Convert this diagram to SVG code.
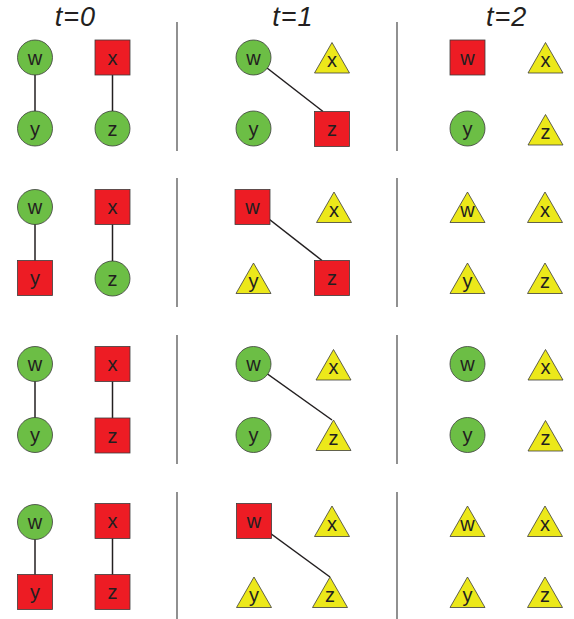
<svg xmlns="http://www.w3.org/2000/svg" xmlns:xlink="http://www.w3.org/1999/xlink" width="574" height="619" viewBox="0 0 574 619">
<style>
.g{fill:#6cbe45;stroke:#3c3c3c;stroke-width:0.8}
.r{fill:#ed1c24;stroke:#3c3c3c;stroke-width:0.8}
.y{fill:#ece81a;stroke:#3c3c3c;stroke-width:0.8}
.lbl{font-family:"Liberation Sans",Arial,sans-serif;font-size:20px;fill:#231f20;text-anchor:middle}
.hdr{font-family:"Liberation Sans",Arial,sans-serif;font-size:27px;font-style:italic;fill:#231f20;text-anchor:middle;letter-spacing:1px}
.edge{stroke:#231f20;stroke-width:1.5;fill:none}
.div{stroke:#555;stroke-width:1.3}
</style>
<defs>
<circle id="C" cx="0" cy="0" r="17.5"/>
<rect id="S" x="-17.5" y="-17.5" width="35" height="35"/>
<polygon id="T" points="0,-15 17.5,15.5 -17.5,15.5"/>
</defs>

<g id="headers">
<text class="hdr" x="75.5" y="26">t=0</text>
<text class="hdr" x="293" y="26">t=1</text>
<text class="hdr" x="506.7" y="26">t=2</text>
</g>

<g id="dividers">
<line class="div" x1="177" y1="22" x2="177" y2="151"/>
<line class="div" x1="397" y1="22" x2="397" y2="151"/>
<line class="div" x1="177" y1="178" x2="177" y2="307"/>
<line class="div" x1="397" y1="178" x2="397" y2="307"/>
<line class="div" x1="177" y1="335" x2="177" y2="464"/>
<line class="div" x1="397" y1="335" x2="397" y2="464"/>
<line class="div" x1="177" y1="492" x2="177" y2="619"/>
<line class="div" x1="397" y1="492" x2="397" y2="619"/>
</g>

<g id="connectors">
<line class="edge" x1="35" y1="57.5" x2="35" y2="128.5"/>
<line class="edge" x1="112.5" y1="57.5" x2="112.5" y2="128.5"/>
<line class="edge" x1="253.5" y1="57.5" x2="323" y2="111.5"/>
<line class="edge" x1="35" y1="207" x2="35" y2="278"/>
<line class="edge" x1="112.5" y1="207" x2="112.5" y2="278"/>
<line class="edge" x1="253.5" y1="207" x2="322" y2="260.5"/>
<line class="edge" x1="35" y1="364" x2="35" y2="435"/>
<line class="edge" x1="112.5" y1="364" x2="112.5" y2="435"/>
<line class="edge" x1="253.5" y1="364" x2="332" y2="420"/>
<line class="edge" x1="35" y1="521" x2="35" y2="592"/>
<line class="edge" x1="112.5" y1="521" x2="112.5" y2="592"/>
<line class="edge" x1="253.5" y1="521" x2="330" y2="577"/>
</g>

<!-- Row 1 -->
<g id="r1-t0-w" transform="translate(35,57.5)"><use href="#C" class="g"/><text class="lbl" y="7">w</text></g>
<g id="r1-t0-x" transform="translate(112.5,57.5)"><use href="#S" class="r"/><text class="lbl" y="7">x</text></g>
<g id="r1-t0-y" transform="translate(35,128.5)"><use href="#C" class="g"/><text class="lbl" y="7">y</text></g>
<g id="r1-t0-z" transform="translate(112.5,128.5)"><use href="#C" class="g"/><text class="lbl" y="7">z</text></g>
<g id="r1-t1-w" transform="translate(253.5,57.5)"><use href="#C" class="g"/><text class="lbl" y="7">w</text></g>
<g id="r1-t1-x" transform="translate(332,57.5)"><use href="#T" class="y"/><text class="lbl" y="9.5">x</text></g>
<g id="r1-t1-y" transform="translate(253.5,128.5)"><use href="#C" class="g"/><text class="lbl" y="7">y</text></g>
<g id="r1-t1-z" transform="translate(332,129)"><use href="#S" class="r"/><text class="lbl" y="7">z</text></g>
<g id="r1-t2-w" transform="translate(467.5,57.5)"><use href="#S" class="r"/><text class="lbl" y="7">w</text></g>
<g id="r1-t2-x" transform="translate(545.5,57.5)"><use href="#T" class="y"/><text class="lbl" y="9.5">x</text></g>
<g id="r1-t2-y" transform="translate(467.5,128.5)"><use href="#C" class="g"/><text class="lbl" y="7">y</text></g>
<g id="r1-t2-z" transform="translate(545.5,129.5)"><use href="#T" class="y"/><text class="lbl" y="9.5">z</text></g>

<!-- Row 2 -->
<g id="r2-t0-w" transform="translate(35,207)"><use href="#C" class="g"/><text class="lbl" y="7">w</text></g>
<g id="r2-t0-x" transform="translate(112.5,207)"><use href="#S" class="r"/><text class="lbl" y="7">x</text></g>
<g id="r2-t0-y" transform="translate(35,278)"><use href="#S" class="r"/><text class="lbl" y="7">y</text></g>
<g id="r2-t0-z" transform="translate(112.5,278.5)"><use href="#C" class="g"/><text class="lbl" y="7">z</text></g>
<g id="r2-t1-w" transform="translate(252.5,207)"><use href="#S" class="r"/><text class="lbl" y="7">w</text></g>
<g id="r2-t1-x" transform="translate(334,207)"><use href="#T" class="y"/><text class="lbl" y="9.5">x</text></g>
<g id="r2-t1-y" transform="translate(253.5,278)"><use href="#T" class="y"/><text class="lbl" y="9.5">y</text></g>
<g id="r2-t1-z" transform="translate(332,278)"><use href="#S" class="r"/><text class="lbl" y="7">z</text></g>
<g id="r2-t2-w" transform="translate(467.5,207)"><use href="#T" class="y"/><text class="lbl" y="9.5">w</text></g>
<g id="r2-t2-x" transform="translate(545,207)"><use href="#T" class="y"/><text class="lbl" y="9.5">x</text></g>
<g id="r2-t2-y" transform="translate(467.5,278)"><use href="#T" class="y"/><text class="lbl" y="9.5">y</text></g>
<g id="r2-t2-z" transform="translate(545,278)"><use href="#T" class="y"/><text class="lbl" y="9.5">z</text></g>

<!-- Row 3 -->
<g id="r3-t0-w" transform="translate(35,364)"><use href="#C" class="g"/><text class="lbl" y="7">w</text></g>
<g id="r3-t0-x" transform="translate(112.5,364)"><use href="#S" class="r"/><text class="lbl" y="7">x</text></g>
<g id="r3-t0-y" transform="translate(35,435)"><use href="#C" class="g"/><text class="lbl" y="7">y</text></g>
<g id="r3-t0-z" transform="translate(112.5,435.5)"><use href="#S" class="r"/><text class="lbl" y="7">z</text></g>
<g id="r3-t1-w" transform="translate(253.5,364)"><use href="#C" class="g"/><text class="lbl" y="7">w</text></g>
<g id="r3-t1-x" transform="translate(333.5,364.5)"><use href="#T" class="y"/><text class="lbl" y="9.5">x</text></g>
<g id="r3-t1-y" transform="translate(253.5,435)"><use href="#C" class="g"/><text class="lbl" y="7">y</text></g>
<g id="r3-t1-z" transform="translate(333.5,435)"><use href="#T" class="y"/><text class="lbl" y="9.5">z</text></g>
<g id="r3-t2-w" transform="translate(467.5,364)"><use href="#C" class="g"/><text class="lbl" y="7">w</text></g>
<g id="r3-t2-x" transform="translate(545.5,364.5)"><use href="#T" class="y"/><text class="lbl" y="9.5">x</text></g>
<g id="r3-t2-y" transform="translate(467.5,435)"><use href="#C" class="g"/><text class="lbl" y="7">y</text></g>
<g id="r3-t2-z" transform="translate(545.5,435.5)"><use href="#T" class="y"/><text class="lbl" y="9.5">z</text></g>

<!-- Row 4 -->
<g id="r4-t0-w" transform="translate(35,522)"><use href="#C" class="g"/><text class="lbl" y="7">w</text></g>
<g id="r4-t0-x" transform="translate(112.5,521)"><use href="#S" class="r"/><text class="lbl" y="7">x</text></g>
<g id="r4-t0-y" transform="translate(35,592)"><use href="#S" class="r"/><text class="lbl" y="7">y</text></g>
<g id="r4-t0-z" transform="translate(112.5,592)"><use href="#S" class="r"/><text class="lbl" y="7">z</text></g>
<g id="r4-t1-w" transform="translate(254,521)"><use href="#S" class="r"/><text class="lbl" y="7">w</text></g>
<g id="r4-t1-x" transform="translate(332,521)"><use href="#T" class="y"/><text class="lbl" y="9.5">x</text></g>
<g id="r4-t1-y" transform="translate(254,592)"><use href="#T" class="y"/><text class="lbl" y="9.5">y</text></g>
<g id="r4-t1-z" transform="translate(330,592)"><use href="#T" class="y"/><text class="lbl" y="9.5">z</text></g>
<g id="r4-t2-w" transform="translate(467.5,521)"><use href="#T" class="y"/><text class="lbl" y="9.5">w</text></g>
<g id="r4-t2-x" transform="translate(545,521)"><use href="#T" class="y"/><text class="lbl" y="9.5">x</text></g>
<g id="r4-t2-y" transform="translate(467.5,592)"><use href="#T" class="y"/><text class="lbl" y="9.5">y</text></g>
<g id="r4-t2-z" transform="translate(545,592)"><use href="#T" class="y"/><text class="lbl" y="9.5">z</text></g>
</svg>
